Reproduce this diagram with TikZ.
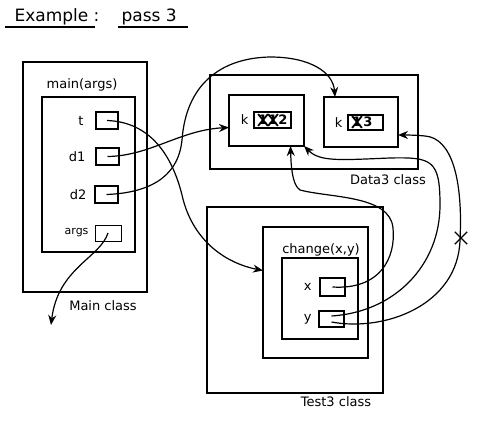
\documentclass[tikz,border=0pt]{standalone}
\usepackage{fontspec}
\setmainfont{DejaVu Sans}
\usetikzlibrary{arrows.meta,positioning,shapes.misc}

\begin{document}
\begin{tikzpicture}[
    x=1pt, y=-1pt,
    font=\fontsize{13}{15}\selectfont,
    frame/.style={draw, line width=1.6pt, inner sep=0pt, outer sep=0pt, anchor=north west},
    slot/.style={draw, line width=1.3pt, inner sep=1pt, outer sep=0pt, anchor=north west},
    digit/.style={inner sep=0pt, font=\fontsize{13}{15}\selectfont\bfseries},
    strike/.style={cross out, draw, line width=1.8pt, minimum width=8pt, minimum height=10pt, inner sep=0pt},
    ref/.style={-{Stealth[length=10pt, width=8pt]}, line width=1.2pt},
    cutmark/.style={cross out, draw, line width=1.3pt, minimum size=11pt, inner sep=0pt}
  ]
    \useasboundingbox (0,0) rectangle (494,430);

    % title
    \node[font=\fontsize{17}{20}\selectfont, anchor=base west] (extitle) at (11,22) {Example :};
    \node[font=\fontsize{17}{20}\selectfont, anchor=base west] (expass) at (118,22) {pass 3};
    \draw[line width=1.4pt] ([xshift=-6pt,yshift=2pt]extitle.south west) -- ([xshift=-8pt,yshift=2pt]extitle.south east);
    \draw[line width=1.4pt] ([yshift=2pt]expass.south west) -- ([xshift=8pt,yshift=2pt]expass.south east);

    % Main class
    \node[frame, minimum width=124, minimum height=230] (mainclass) at (23,62) {};
    \node at (82,85) (mainname) {main(args)};
    \node[frame, minimum width=93, minimum height=155] (mainframe) at (42,97) {};
    \node[slot, minimum width=22, minimum height=17] (tbox) at (96,112) {};
    \node[slot, minimum width=23, minimum height=17] (dabox) at (96,148) {};
    \node[slot, minimum width=23, minimum height=17] (dbbox) at (95,186) {};
    \node[slot, line width=0.9pt, minimum width=26, minimum height=16] (argsbox) at (95,225) {};
    \node[left=9pt of tbox] (tname) {t};
    \node[left=7pt of dabox] (daname) {d1};
    \node[left=5pt of dbbox] (dbname) {d2};
    \node[left=3pt of argsbox, font=\fontsize{11}{13}\selectfont] (argsname) {args};
    \node at (103,306) (mainlabel) {Main class};
    \coordinate (mainout) at (51,325);

    % Data3 class
    \node[frame, minimum width=208, minimum height=94] (dataclass) at (210,75) {};
    \node[frame, minimum width=75, minimum height=51] (obja) at (229,95) {};
    \node[slot, minimum width=37, minimum height=16] (vala) at (254,112) {};
    \node[digit] (vaone) at (263,120) {1};
    \node[digit] (vatwo) at (273,120) {1};
    \node[digit] (vanew) at (283,120) {2};
    \node[strike] at (vaone) {};
    \node[strike] at (vatwo) {};
    \node[left=2pt of vala] (kaname) {k};
    \node[frame, minimum width=74, minimum height=50] (objb) at (324,97) {};
    \node[slot, minimum width=35, minimum height=15] (valb) at (348,115) {};
    \node[digit] (vbone) at (357,122) {1};
    \node[digit] (vbnew) at (368,122) {3};
    \node[strike] at (vbone) {};
    \node[left=2pt of valb] (kbname) {k};
    \node at (388,180) (datalabel) {Data3 class};

    % Test3 class
    \node[frame, minimum width=176, minimum height=186] (testclass) at (207,207) {};
    \node[frame, minimum width=105, minimum height=131] (changeframe) at (263,227) {};
    \node at (321,250) (changename) {change(x,y)};
    \node[frame, minimum width=76, minimum height=81] (changeinner) at (282,258) {};
    \node[slot, minimum width=25, minimum height=18] (xbox) at (320,278) {};
    \node[slot, minimum width=25, minimum height=16] (ybox) at (319,311) {};
    \node[left=5pt of xbox] (xname) {x};
    \node[left=4pt of ybox] (yname) {y};
    \node at (336,402) (testlabel) {Test3 class};

    % references
    \draw[ref] (tbox.center) .. controls (150,122) and (172,155) .. (182,195)
      .. controls (192,240) and (225,263) .. ([yshift=22pt]changeframe.west);
    \draw[ref] (dabox.center) .. controls (150,156) and (180,130) .. ([yshift=-7pt]obja.west);
    \draw[ref] (dbbox.center) .. controls (145,193) and (178,180) .. (182,140)
      .. controls (186,85) and (220,58) .. (270,57)
      .. controls (310,57) and (333,72) .. ([xshift=-26pt]objb.north);
    \draw[ref] (argsbox.center) .. controls (100,258) and (58,268) .. (mainout);
    \draw[ref] (xbox.center) .. controls (380,290) and (396,258) .. (393,228)
      .. controls (390,195) and (330,198) .. (300,190)
      .. controls (292,185) and (291,165) .. ([xshift=24pt]obja.south);
    \draw[ref] ([yshift=3pt]ybox.center) .. controls (395,312) and (440,265) .. (440,205)
      .. controls (440,160) and (432,157) .. (390,158)
      .. controls (340,160) and (320,162) .. (obja.south east);
    \draw[ref] ([yshift=-3pt]ybox.center) .. controls (385,332) and (458,305) .. (460,240)
      .. controls (463,180) and (452,138) .. (425,136)
      .. controls (415,135) and (405,135) .. ([yshift=-13pt]objb.east);
    \node[cutmark] (cut) at (461,238) {};
\end{tikzpicture}
\end{document}
